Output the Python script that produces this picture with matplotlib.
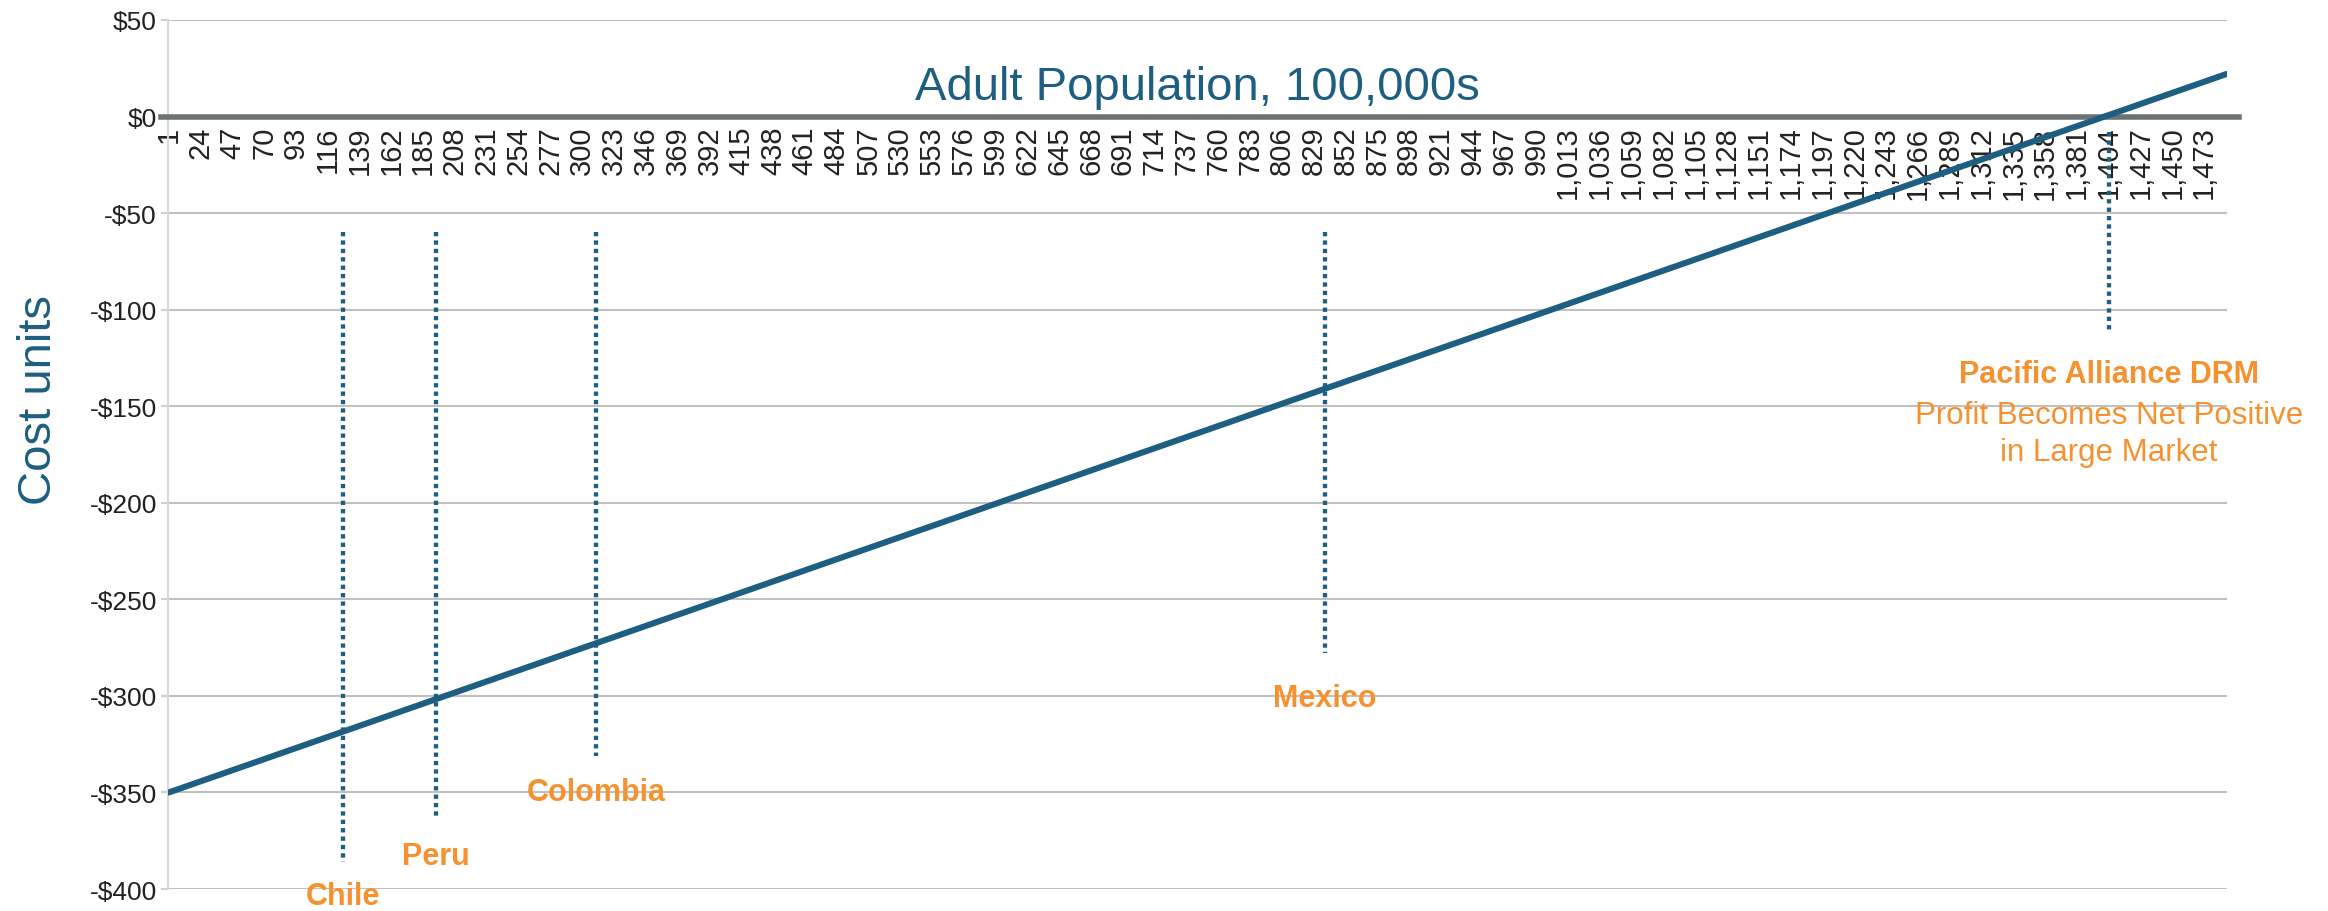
import matplotlib
matplotlib.use("Agg")
import matplotlib.pyplot as plt
import matplotlib.transforms as mtransforms

# Break-even line: cost per adult vs. adult population (100,000s)
population = [1, 1489]
cost = [-350, 22]

# Markets marked along the population axis
markets = ["Chile", "Peru", "Colombia", "Mexico", "Pacific Alliance DRM"]
market_pop = [127, 194, 310, 837, 1404]

x_ticks = list(range(1, 1490, 23))
x_tick_labels = [f"{v:,}" for v in x_ticks]
y_ticks = [50, 0, -50, -100, -150, -200, -250, -300, -350, -400]
y_tick_labels = ["$50", "$0", "-$50", "-$100", "-$150", "-$200",
                 "-$250", "-$300", "-$350", "-$400"]

TEAL = "#1E5E80"
ORANGE = "#F5922F"
GRID = "#C0C0C0"

plt.rcParams["font.family"] = ["Liberation Sans", "DejaVu Sans"]

fig = plt.figure(figsize=(23.28, 9.12), dpi=100)
ax = fig.add_axes([0.0722, 0.0241, 0.8844, 0.9529])

# x axis sits on the zero line; set this before the ticks (it resets them)
ax.spines["bottom"].set_position(("data", 0))
ax.spines["bottom"].set_visible(False)
ax.spines["top"].set_visible(False)
ax.spines["right"].set_visible(False)
ax.spines["left"].set_color("#D9D9D9")
ax.spines["left"].set_linewidth(1.5)

ax.set_xlim(0.5, 1489.5)
ax.set_ylim(-400, 50)

# horizontal gridlines (zero line drawn separately)
for v in y_ticks:
    if v != 0:
        ax.axhline(v, color=GRID, lw=1.5, zorder=1)

ax.plot(population, cost, color=TEAL, lw=4.4, solid_capstyle="round", zorder=4)

# market marker lines: (top, bottom) of each dotted line
spans = [(-60, -386), (-60, -364), (-60, -331), (-60, -278), (-8, -112)]
for x, (top, bot) in zip(market_pop, spans):
    ax.plot([x, x], [top, bot], color=TEAL, lw=3.1, linestyle=(0, (1, 0.95)),
            zorder=5)

# market labels (baseline y)
label_y = [-408, -387, -354, -305, -137.5]
for name, x, y in zip(markets, market_pop, label_y):
    ax.text(x, y, name, color=ORANGE, fontsize=22, fontweight="bold",
            ha="center", va="baseline", zorder=6)
ax.text(market_pop[-1], -158.8, "Profit Becomes Net Positive", color=ORANGE,
        fontsize=22.5, ha="center", va="baseline", zorder=6)
ax.text(market_pop[-1], -177.8, "in Large Market", color=ORANGE,
        fontsize=22.5, ha="center", va="baseline", zorder=6)

# zero axis line, running slightly past both edges
trans = mtransforms.blended_transform_factory(ax.transAxes, ax.transData)
ax.plot([-0.0035, 1.006], [0, 0], color="#6D7275", lw=4, transform=trans,
        clip_on=False, zorder=3)

ax.set_xticks(x_ticks)
ax.set_xticklabels(x_tick_labels, rotation=90, fontsize=21, color="#222222")
ax.set_yticks(y_ticks)
ax.set_yticklabels(y_tick_labels, fontsize=19, color="#222222")
ax.tick_params(axis="x", length=0, pad=6.5)
ax.tick_params(axis="y", length=5, width=1.5, color="#D0D0D0", pad=3)

ax.text(745, 9, "Adult Population, 100,000s", color=TEAL, fontsize=34,
        ha="center", va="baseline", zorder=6)
ax.text(-0.0627, 0.564, "Cost units", color=TEAL, fontsize=34, rotation=90,
        ha="center", va="center", transform=ax.transAxes)

fig.savefig("out.png", dpi=100, facecolor="white")
